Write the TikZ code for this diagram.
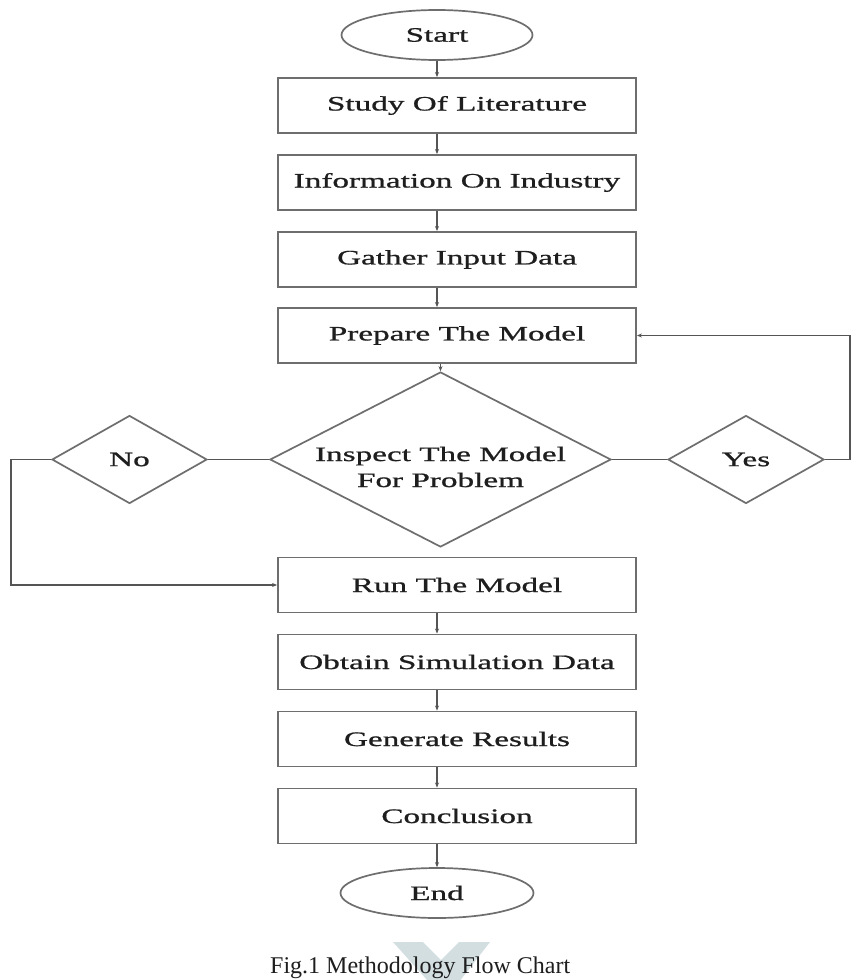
\documentclass[tikz,border=0pt]{standalone}
\usepackage{fontspec}
\setmainfont{Liberation Serif}
\newfontfamily\boxfont[FakeStretch=1.62,FakeBold=0.9]{Liberation Serif}
\usetikzlibrary{shapes.geometric,arrows.meta}
\definecolor{edge}{HTML}{6E6E6E}
\definecolor{wire}{HTML}{555555}
\definecolor{ink}{HTML}{1E1E1E}
\definecolor{wm}{HTML}{D3DEE1}
\begin{document}
\begin{tikzpicture}[x=1pt,y=-1pt,
  every node/.style={font=\boxfont\fontsize{20.5}{26}\selectfont, text=ink},
  procbox/.style={draw=edge, line width=1.9pt, rectangle, minimum width=358pt, minimum height=55pt, inner sep=0pt},
  terminal/.style={draw=edge, line width=1.7pt, ellipse, minimum width=191pt, minimum height=50pt, inner sep=0pt},
  decision/.style={draw=edge, line width=1.7pt, diamond, inner sep=0pt},
  wireline/.style={draw=wire, line width=1.6pt},
  flow/.style={wireline, -{Stealth[length=5pt,width=4pt]}}]
\useasboundingbox (0,0) rectangle (853,980);
\fill[white] (0,0) rectangle (853,980);

% watermark chevron
\fill[wm] (393,942) -- (423,942) -- (441,960) -- (459,942) -- (490,942) -- (445,1000) -- cycle;

\node[terminal] (start) at (437,35) {Start};
\node[procbox] (study) at (457,105.5) {Study Of Literature};
\node[procbox] (info) at (457,182.5) {Information On Industry};
\node[procbox] (gather) at (457,259.5) {Gather Input Data};
\node[procbox] (prepare) at (457,335.5) {Prepare The Model};

\node[decision, minimum width=341pt, minimum height=175pt, aspect=1.95] (inspect) at (440.5,459.5) {};
\node[align=center, inner sep=0pt] (inspectlabel) at (440.5,467) {Inspect The Model\\For Problem};
\node[decision, minimum width=155pt, minimum height=88pt, aspect=1.76] (no) at (129.5,459.5) {No};
\node[decision, minimum width=156pt, minimum height=88pt, aspect=1.77] (yes) at (746,459.5) {Yes};

\node[procbox] (run) at (457,585) {Run The Model};
\node[procbox] (obtain) at (457,662) {Obtain Simulation Data};
\node[procbox] (generate) at (457,739) {Generate Results};
\node[procbox] (conclusion) at (457,816) {Conclusion};
\node[terminal, minimum width=193pt] (end) at (437,893) {End};

\node[font=\fontsize{24}{28}\selectfont, anchor=base west, inner sep=0pt] (caption) at (270,973.5) {Fig.1 Methodology Flow Chart};

% vertical flow
\draw[flow] (start.south) -- (start.south |- study.north);
\draw[flow] (start.south |- study.south) -- (start.south |- info.north);
\draw[flow] (start.south |- info.south) -- (start.south |- gather.north);
\draw[flow] (start.south |- gather.south) -- (start.south |- prepare.north);
\draw[flow] (inspect.north |- prepare.south) -- (inspect.north);
\draw[flow] (end.north |- run.south) -- (end.north |- obtain.north);
\draw[flow] (end.north |- obtain.south) -- (end.north |- generate.north);
\draw[flow] (end.north |- generate.south) -- (end.north |- conclusion.north);
\draw[flow] (end.north |- conclusion.south) -- (end.north);

% decision branches
\coordinate (lcorner) at (11,459.5);
\coordinate (rcorner) at (850,459.5);
\draw[wireline] (inspect.west) -- (no.east);
\draw[flow] (no.west) -- (lcorner) |- (run.west);
\draw[wireline] (inspect.east) -- (yes.west);
\draw[flow] (yes.east) -- (rcorner) |- (prepare.east);
\end{tikzpicture}
\end{document}
